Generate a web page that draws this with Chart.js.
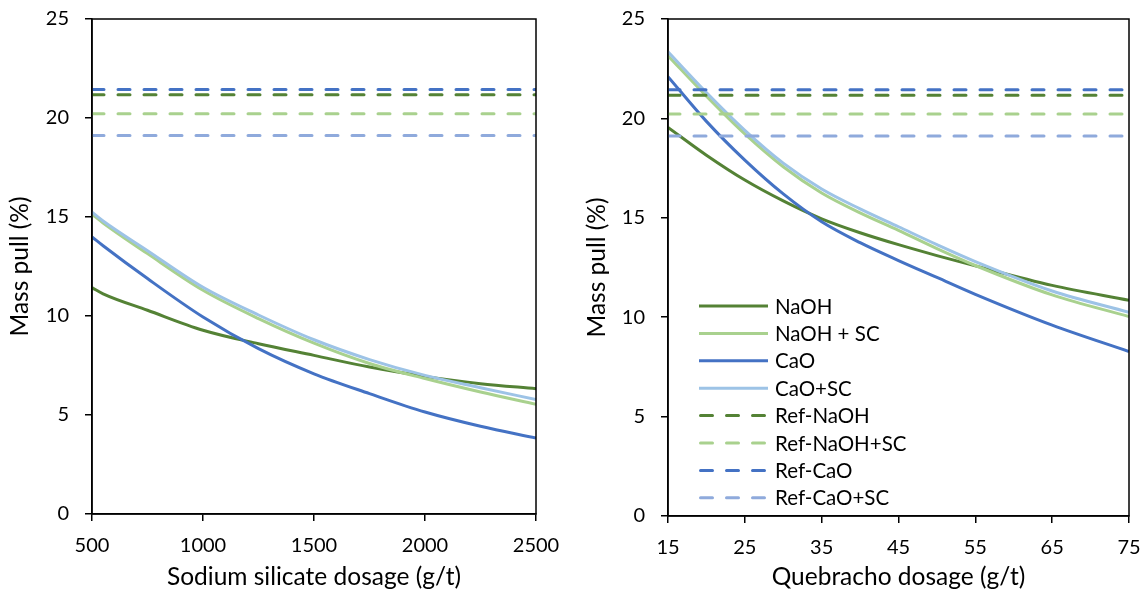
<!DOCTYPE html>
<html>
<head>
<meta charset="utf-8">
<script src="https://cdn.jsdelivr.net/npm/chart.js@4.4.1/dist/chart.umd.min.js"></script>
<style>
  html, body { margin: 0; padding: 0; background: #fff; }
  .box { position: absolute; top: 0; height: 589px; }
  #leftBox { left: 0; width: 572px; }
  #rightBox { left: 572px; width: 573px; }
</style>
</head>
<body>
<div class="box" id="leftBox"><canvas id="leftChart"></canvas></div>
<div class="box" id="rightBox"><canvas id="rightChart"></canvas></div>
<script>
// ---- data: sodium silicate (left panel) ----
const silicateDosage = [500, 550, 750, 1000, 1250, 1500, 1750, 2000, 2250, 2500];
const silNaOH   = [11.43, 11.12, 10.29, 9.28, 8.60, 8.01, 7.42, 6.95, 6.58, 6.33];
const silNaOHSC = [15.14, 14.70, 13.15, 11.30, 9.87, 8.63, 7.60, 6.84, 6.16, 5.54];
const silCaO    = [13.99, 13.55, 11.89, 9.95, 8.35, 7.08, 6.08, 5.15, 4.43, 3.84];
const silCaOSC  = [15.25, 14.80, 13.30, 11.45, 10.05, 8.80, 7.80, 7.00, 6.38, 5.78];

// ---- data: quebracho (right panel) ----
const quebrachoDosage = [15, 20, 25, 30, 35, 40, 45, 50, 55, 65, 75];
const queNaOH   = [19.55, 18.15, 16.90, 15.85, 14.95, 14.25, 13.65, 13.10, 12.58, 11.60, 10.85];
const queNaOHSC = [23.15, 21.12, 19.22, 17.57, 16.25, 15.25, 14.37, 13.45, 12.60, 11.12, 10.03];
const queCaO    = [22.10, 19.85, 17.90, 16.20, 14.80, 13.75, 12.85, 12.00, 11.15, 9.60, 8.27];
const queCaOSC  = [23.35, 21.30, 19.40, 17.75, 16.45, 15.45, 14.55, 13.65, 12.80, 11.32, 10.25];

// reference (no depressant) mass pull: Ref-NaOH, Ref-NaOH+SC, Ref-CaO, Ref-CaO+SC
const refValues = [21.17, 20.22, 21.44, 19.12];

const seriesNames = ["NaOH", "NaOH + SC", "CaO", "CaO+SC",
                     "Ref-NaOH", "Ref-NaOH+SC", "Ref-CaO", "Ref-CaO+SC"];
const seriesColors = ["#548235", "#A9D18E", "#4472C4", "#9DC3E6",
                      "#548235", "#A9D18E", "#4472C4", "#8FAADC"];

const FONT = "Lato, 'Open Sans', sans-serif";
const DASH = [12, 14];

function pairUp(xs, ys) {
  return xs.map((x, i) => ({ x: x, y: ys[i] }));
}

// build the 8 datasets for a panel
function buildDatasets(xs, curves) {
  const xmin = xs[0], xmax = xs[xs.length - 1];
  const sets = [];
  curves.forEach((ys, i) => {
    sets.push({
      label: seriesNames[i],
      data: pairUp(xs, ys),
      borderColor: seriesColors[i],
      backgroundColor: seriesColors[i],
      borderWidth: 3,
      pointRadius: 0,
      cubicInterpolationMode: "monotone",
      order: 20 - i,
    });
  });
  refValues.forEach((v, j) => {
    const i = j + 4;
    sets.push({
      label: seriesNames[i],
      data: [{ x: xmin, y: v }, { x: xmax, y: v }],
      borderColor: seriesColors[i],
      backgroundColor: seriesColors[i],
      borderWidth: 3,
      borderDash: DASH,
      borderCapStyle: "round",
      pointRadius: 0,
      order: 20 - i,
    });
  });
  return sets;
}

// frame round the plot area
const frame = {
  id: "frame",
  afterDatasetsDraw(chart) {
    const a = chart.chartArea, c = chart.ctx;
    c.save();
    c.strokeStyle = "#000";
    c.lineWidth = 1.5;
    c.strokeRect(a.left, a.top, a.right - a.left, a.bottom - a.top);
    c.restore();
  },
};

// legend drawn inside the plot area (right panel)
const innerLegend = {
  id: "innerLegend",
  afterDraw(chart) {
    const a = chart.chartArea, c = chart.ctx;
    const x0 = a.left + 31;
    c.save();
    c.font = "20.5px " + FONT;
    c.textBaseline = "middle";
    chart.data.datasets.forEach((ds, i) => {
      const y = a.bottom - 210 + i * 27.4;
      c.strokeStyle = ds.borderColor;
      c.lineWidth = 3;
      c.lineCap = ds.borderDash ? "round" : "butt";
      c.setLineDash(ds.borderDash || []);
      c.beginPath();
      c.moveTo(x0 + (ds.borderDash ? 1.5 : 0), y);
      c.lineTo(x0 + 69, y);
      c.stroke();
      c.setLineDash([]);
      c.fillStyle = "#000";
      c.fillText(ds.label, x0 + 76, y + 1);
    });
    c.restore();
  },
};

function makeOptions(xmin, xmax, step, xTitle, yWidth, xHeight, yTitlePad, pad) {
  return {
    responsive: true,
    maintainAspectRatio: false,
    animation: false,
    layout: { padding: pad },
    plugins: { legend: { display: false }, tooltip: { enabled: false } },
    scales: {
      x: {
        type: "linear",
        min: xmin,
        max: xmax,
        // fixed axis height; let layout padding alone set the plot edges
        afterFit(s) { s.height = xHeight; s.paddingLeft = 0; s.paddingRight = 0; },
        ticks: { stepSize: step, color: "#000", font: { family: FONT, size: 20 }, padding: 13, maxRotation: 0,
                 callback: (v) => String(v) },
        grid: { drawOnChartArea: false, drawTicks: true, tickLength: 7, color: "#000", lineWidth: 1.5 },
        border: { display: true, color: "#000", width: 1.5 },
        title: { display: true, text: xTitle, color: "#000", font: { family: FONT, size: 24.5, lineHeight: 1 },
                 padding: { top: 0, bottom: 0 } },
      },
      y: {
        min: 0,
        max: 25,
        afterFit(s) { s.width = yWidth; s.paddingTop = 0; s.paddingBottom = 0; },
        ticks: { stepSize: 5, color: "#000", font: { family: FONT, size: 20 }, padding: 16,
                 callback: (v) => String(v) },
        grid: { drawOnChartArea: false, drawTicks: true, tickLength: 7, color: "#000", lineWidth: 1.5 },
        border: { display: true, color: "#000", width: 1.5 },
        title: { display: true, text: "Mass pull (%)", color: "#000", font: { family: FONT, size: 24.5, lineHeight: 1 },
                 padding: { top: yTitlePad, bottom: 0 } },
      },
    },
  };
}

new Chart(document.getElementById("leftChart"), {
  type: "line",
  data: { datasets: buildDatasets(silicateDosage, [silNaOH, silNaOHSC, silCaO, silCaOSC]) },
  options: makeOptions(500, 2500, 500, "Sodium silicate dosage (g/t)", 92, 75, 8,
                       { left: 0, right: 36, top: 19, bottom: 0 }),
  plugins: [frame],
});

new Chart(document.getElementById("rightChart"), {
  type: "line",
  data: { datasets: buildDatasets(quebrachoDosage, [queNaOH, queNaOHSC, queCaO, queCaOSC]) },
  options: makeOptions(15, 75, 10, "Quebracho dosage (g/t)", 96, 73, 13,
                       { left: 0, right: 16, top: 19, bottom: 0 }),
  plugins: [frame, innerLegend],
});
</script>
</body>
</html>
